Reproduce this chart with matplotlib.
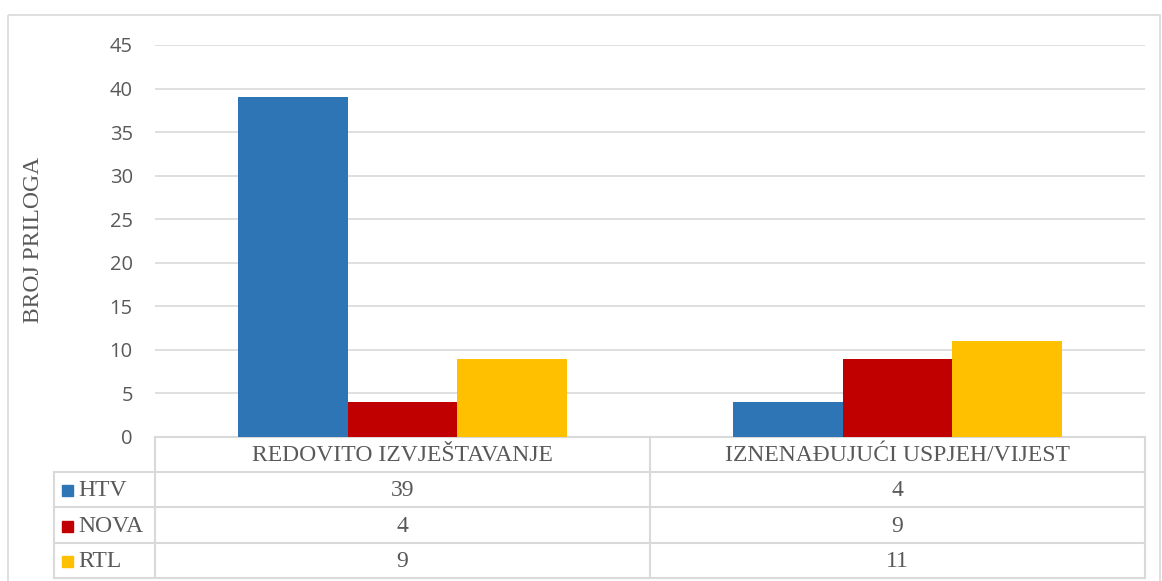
import numpy as np
from matplotlib import pyplot as plt
from matplotlib.patches import Rectangle

categories = ["REDOVITO IZVJEŠTAVANJE", "IZNENAĐUJUĆI USPJEH/VIJEST"]
series_names = ["HTV", "NOVA", "RTL"]
htv = [39, 4]
nova = [4, 9]
rtl = [9, 11]
colors = ["#2E75B6", "#C00000", "#FFC000"]
y_ticks = [0, 5, 10, 15, 20, 25, 30, 35, 40, 45]

W, H = 1162, 581
fig = plt.figure(figsize=(W / 100, H / 100), dpi=100)

# overlay axes in pixel coordinates for the frame and data table
ov = fig.add_axes([0, 0, 1, 1])
ov.set_xlim(0, W)
ov.set_ylim(H, 0)
ov.axis("off")

grid_c = "#d9d9d9"
text_c = "#595959"
serif = "Liberation Serif"
fs = 17

# outer chart border
ov.add_patch(Rectangle((8, 15), 1152, 580, fill=False, edgecolor=grid_c, lw=1.2))

# main plot area
left, right, top, bottom = 155, 1145, 45, 437
ax = fig.add_axes([left / W, 1 - bottom / H, (right - left) / W, (bottom - top) / H])
ax.set_zorder(2)
ax.patch.set_alpha(0)

x = np.arange(len(categories))
bw = 0.222
all_series = [htv, nova, rtl]
for i, vals in enumerate(all_series):
    ax.bar(x + (i - 1) * bw, vals, width=bw, color=colors[i], zorder=3)

ax.set_xlim(-0.5, len(categories) - 0.5)
ax.set_ylim(0, 45)
ax.set_yticks(y_ticks)
ax.set_yticklabels([str(t) for t in y_ticks], fontfamily="Open Sans", fontsize=14.5, color=text_c)
ax.tick_params(axis="y", length=0, pad=16)
ax.set_xticks([])
ax.grid(axis="y", color=grid_c, lw=1.2, zorder=0)
for s in ax.spines.values():
    s.set_visible(False)

fig.text(34 / W, 1 - 240 / H, "BROJ PRILOGA", rotation=90, ha="center", va="center",
         fontfamily=serif, fontsize=fs, color=text_c)

# data table
row_y = [437, 472, 507, 543, 578]
col_x = [54, 155, 650, 1145]
lw_t = 1.5
for yy in row_y[1:]:
    ov.plot([col_x[0], col_x[-1]], [yy, yy], color=grid_c, lw=lw_t)
ov.plot([col_x[1], col_x[-1]], [row_y[0], row_y[0]], color=grid_c, lw=lw_t)
ov.plot([col_x[0], col_x[0]], [row_y[1], row_y[-1]], color=grid_c, lw=lw_t)
for xx in col_x[1:]:
    ov.plot([xx, xx], [row_y[0], row_y[-1]], color=grid_c, lw=lw_t)

for j, cat in enumerate(categories):
    cx = (col_x[j + 1] + col_x[j + 2]) / 2
    ov.text(cx, (row_y[0] + row_y[1]) / 2 + 1, cat, ha="center", va="center",
            fontfamily=serif, fontsize=fs, color=text_c)

for i, name in enumerate(series_names):
    cy = (row_y[i + 1] + row_y[i + 2]) / 2 + 1
    ov.add_patch(Rectangle((62, cy - 5.5), 11, 11, color=colors[i]))
    ov.text(78, cy, name, ha="left", va="center", fontfamily=serif, fontsize=fs, color=text_c)
    for j in range(len(categories)):
        cx = (col_x[j + 1] + col_x[j + 2]) / 2
        ov.text(cx, cy, str(all_series[i][j]), ha="center", va="center",
                fontfamily=serif, fontsize=fs, color=text_c)

fig.savefig("out.png", dpi=100)
